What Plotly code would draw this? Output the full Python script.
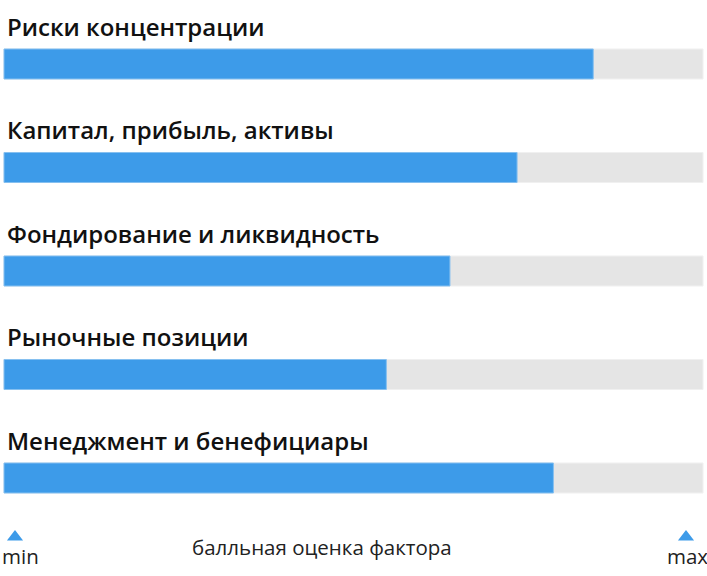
import plotly.graph_objects as go

categories = ["Риски концентрации", "Капитал, прибыль, активы", "Фондирование и ликвидность",
              "Рыночные позиции", "Менеджмент и бенефициары"]
scores = [8.43, 7.34, 6.38, 5.47, 7.86]
max_score = 10
axis_labels = ["min", "max"]
axis_title = "балльная оценка фактора"

BLUE = "#3d9be9"
GRAY = "#e5e5e5"
W, H = 707, 576
px_per_unit = 69.9
x0_px = 4
y0_px, step_px = 64, 103.5

idx = list(range(len(categories)))

fig = go.Figure()
fig.add_trace(go.Bar(
    y=idx, x=[max_score] * len(idx), orientation="h", width=0.29,
    marker=dict(color=GRAY, line=dict(color="#f0f0f0", width=1)),
    hoverinfo="skip", showlegend=False))
fig.add_trace(go.Bar(
    y=idx, x=scores, orientation="h", width=0.29,
    marker=dict(color=BLUE, line=dict(color="#86c0f0", width=1)),
    showlegend=False))

# triangles at the ends of the scale
fig.add_trace(go.Scatter(
    x=[(15 - x0_px) / px_per_unit, (686 - x0_px) / px_per_unit],
    y=[(537 - y0_px) / step_px] * 2,
    mode="markers", marker=dict(symbol="triangle-up", size=14, color=BLUE),
    cliponaxis=False, hoverinfo="skip", showlegend=False))

for i, c in enumerate(categories):
    fig.add_annotation(x=0, y=i, xref="x", yref="y", text=c, showarrow=False,
                       xanchor="left", yanchor="middle", xshift=1, yshift=38,
                       font=dict(family="Open Sans", size=24, color="#111", weight=600))

fig.add_annotation(x=20 / W, y=1 - 556 / H, xref="paper", yref="paper", text=axis_labels[0],
                   showarrow=False, xanchor="center", yanchor="middle",
                   font=dict(family="Open Sans", size=20.5, color="#222"))
fig.add_annotation(x=687 / W, y=1 - 556 / H, xref="paper", yref="paper", text=axis_labels[1],
                   showarrow=False, xanchor="center", yanchor="middle",
                   font=dict(family="Open Sans", size=20.5, color="#222"))
fig.add_annotation(x=322 / W, y=1 - 547 / H, xref="paper", yref="paper", text=axis_title,
                   showarrow=False, xanchor="center", yanchor="middle",
                   font=dict(family="Open Sans", size=20.5, color="#222"))

fig.update_layout(
    width=W, height=H, margin=dict(l=0, r=0, t=0, b=0),
    paper_bgcolor="white", plot_bgcolor="white", barmode="overlay",
    xaxis=dict(range=[-x0_px / px_per_unit, (W - x0_px) / px_per_unit],
               visible=False, fixedrange=True),
    yaxis=dict(range=[(H - y0_px) / step_px, -y0_px / step_px],
               visible=False, fixedrange=True),
)
fig.write_html("out.html", config={"displayModeBar": False},
               post_script="document.body.style.margin='0px';document.body.style.overflow='hidden';")
